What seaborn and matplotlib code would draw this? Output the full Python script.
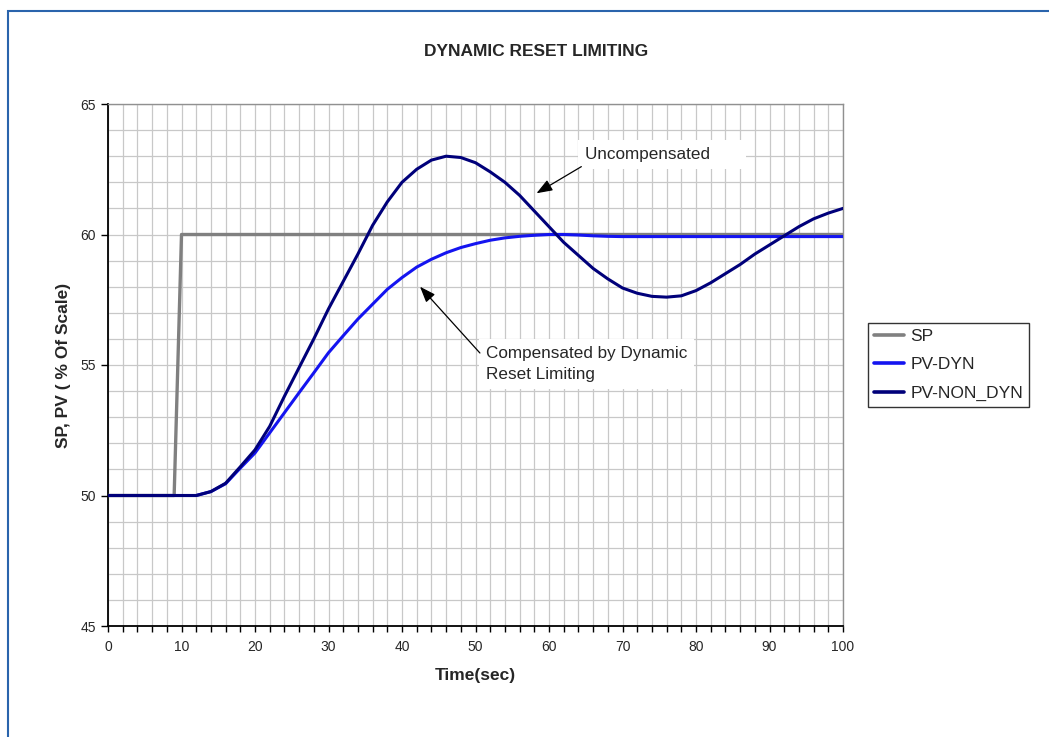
import matplotlib
matplotlib.use("Agg")
import matplotlib.pyplot as plt
import matplotlib.patches as mpatches
from matplotlib.ticker import MultipleLocator
import seaborn as sns

# setpoint step
SP_TIME = [0, 9, 10, 100]
SP_VALUE = [50, 50, 60, 60]

# process variable, sampled every 2 s
PV_TIME = list(range(0, 101, 2))
PV_DYN = [50, 50, 50, 50, 50, 50, 50, 50.15, 50.45, 51.05,
          51.63, 52.4, 53.17, 53.94, 54.7, 55.47, 56.12, 56.76, 57.33, 57.9,
          58.35, 58.75, 59.05, 59.3, 59.5, 59.65, 59.78, 59.87, 59.93, 59.97,
          60.0, 60.0, 59.98, 59.95, 59.93, 59.92, 59.92, 59.92, 59.92, 59.92,
          59.92, 59.92, 59.92, 59.92, 59.92, 59.92, 59.92, 59.92, 59.92, 59.92,
          59.92]
PV_NON_DYN = [50, 50, 50, 50, 50, 50, 50, 50.15, 50.47, 51.1,
              51.75, 52.65, 53.8, 54.9, 56.0, 57.15, 58.2, 59.25, 60.35, 61.25,
              62.0, 62.5, 62.85, 63.0, 62.95, 62.75, 62.4, 62.0, 61.5, 60.9,
              60.3, 59.7, 59.2, 58.7, 58.3, 57.95, 57.75, 57.63, 57.6, 57.65,
              57.85, 58.15, 58.5, 58.85, 59.25, 59.6, 59.95, 60.3, 60.6, 60.82,
              61.0]

SERIES_NAMES = ["SP", "PV-DYN", "PV-NON_DYN"]
COLORS = ["#808080", "#1414f0", "#00007a"]

sns.set_style("white")
plt.rcParams["font.family"] = ["Liberation Sans", "DejaVu Sans"]

fig = plt.figure(figsize=(10.49, 7.37), dpi=100)
ax = fig.add_axes([108 / 1049, 1 - 626 / 737, 735 / 1049, 522 / 737])

sns.lineplot(x=SP_TIME, y=SP_VALUE, ax=ax, color=COLORS[0], lw=2.4,
             label=SERIES_NAMES[0], zorder=3)
sns.lineplot(x=PV_TIME, y=PV_DYN, ax=ax, color=COLORS[1], lw=2.2,
             label=SERIES_NAMES[1], zorder=4)
sns.lineplot(x=PV_TIME, y=PV_NON_DYN, ax=ax, color=COLORS[2], lw=2.2,
             label=SERIES_NAMES[2], zorder=5)

ax.set_xlim(0, 100)
ax.set_ylim(45, 65)
ax.xaxis.set_major_locator(MultipleLocator(10))
ax.xaxis.set_minor_locator(MultipleLocator(2))
ax.yaxis.set_major_locator(MultipleLocator(5))
ax.yaxis.set_minor_locator(MultipleLocator(1))
ax.grid(which="both", color="#c8c8c8", lw=0.9)
ax.set_axisbelow(True)

ax.tick_params(axis="x", which="both", bottom=True, length=4, width=1,
               color="black", pad=6, labelsize=10)
ax.tick_params(axis="y", which="major", left=True, length=5, width=1,
               color="black", pad=3.5, labelsize=10)
ax.tick_params(axis="y", which="minor", left=False)

for side in ["left", "bottom"]:
    ax.spines[side].set_color("black")
    ax.spines[side].set_linewidth(1.3)
for side in ["top", "right"]:
    ax.spines[side].set_color("#909090")
    ax.spines[side].set_linewidth(1)

ax.set_xlabel("Time(sec)", fontsize=12.5, fontweight="bold")
ax.set_ylabel("SP, PV ( % Of Scale)", fontsize=12.5, fontweight="bold")
ax.xaxis.set_label_coords(0.5, -0.08)
ax.yaxis.set_label_coords(-0.05, 0.5)

fig.text(536 / 1049, 1 - 51 / 737, "DYNAMIC RESET LIMITING",
         ha="center", va="center", fontsize=12.5, fontweight="bold")

# callouts
box = dict(fc="white", ec="none", pad=5)
ax.text(64.9, 63.08, "Uncompensated      ", ha="left", va="center",
        fontsize=12.3, bbox=box, zorder=6)
ax.text(51.4, 55.04, "Compensated by Dynamic\nReset Limiting", ha="left",
        va="center", fontsize=12.3, linespacing=1.55, bbox=box, zorder=6)
arrow = dict(arrowstyle="-|>,head_length=0.8,head_width=0.3", color="black",
             lw=0.9, mutation_scale=12, shrinkA=0, shrinkB=0)
ax.annotate("", xy=(58.3, 61.58), xytext=(64.4, 62.6), arrowprops=arrow,
            zorder=7)
ax.annotate("", xy=(42.45, 58.0), xytext=(50.6, 55.46), arrowprops=arrow,
            zorder=7)

handles, labels = ax.get_legend_handles_labels()
ax.get_legend().remove()
leg = fig.legend(handles, labels, loc="upper left",
                 bbox_to_anchor=(868 / 1049, 1 - 323 / 737),
                 fontsize=12.5, frameon=True, fancybox=False, shadow=False,
                 borderaxespad=0, borderpad=0.35, handlelength=1.7,
                 handletextpad=0.4, labelspacing=0.75)
leg.get_frame().set_edgecolor("black")
leg.get_frame().set_linewidth(1)
for line in leg.get_lines():
    line.set_linewidth(2.6)

# page frame
fig.patches.append(mpatches.Rectangle((8 / 1049, -0.1), 1.2, 1.1 - 11 / 737,
                                      transform=fig.transFigure, fill=False,
                                      ec="#2a64ac", lw=1.5))

fig.savefig("out.png", dpi=100)
